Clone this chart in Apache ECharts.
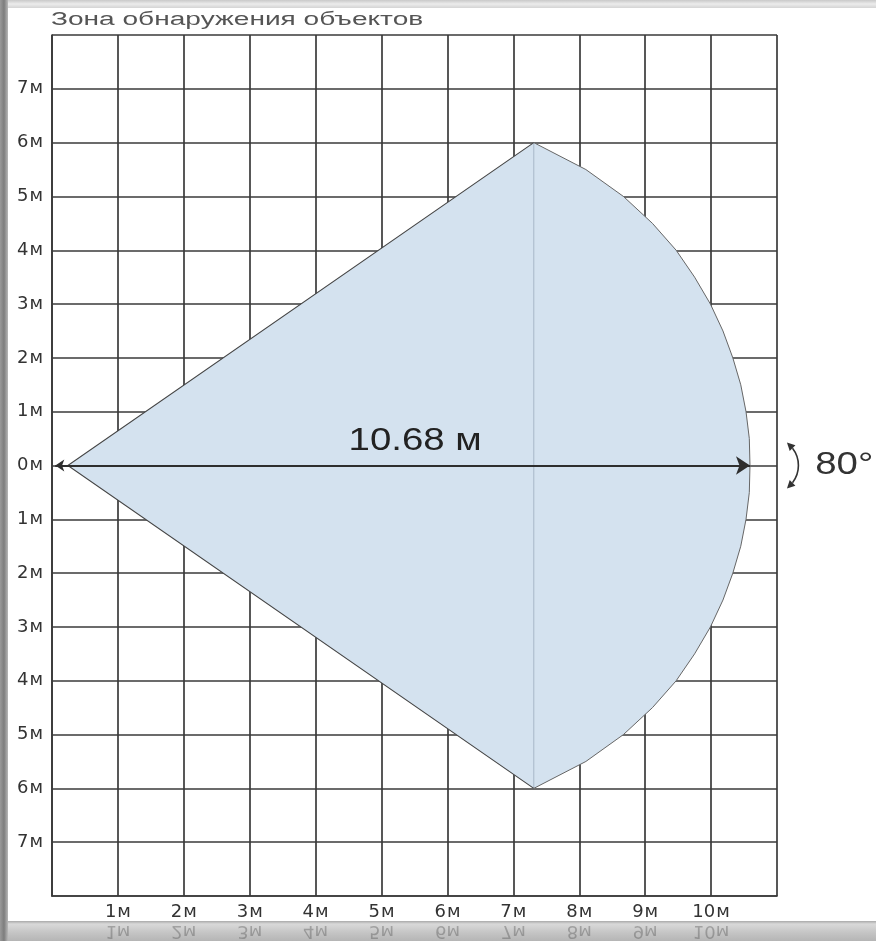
<!DOCTYPE html>
<html>
<head>
<meta charset="utf-8">
<script src="https://cdn.jsdelivr.net/npm/echarts@6/dist/echarts.min.js"></script>
<style>html,body{margin:0;padding:0;background:#fff;}#c{width:876px;height:941px;}</style>
</head>
<body>
<div id="c"></div>
<script>
// ---- data (metres) ----
const titleText = 'Зона обнаружения объектов';
const xTickValues = [1, 2, 3, 4, 5, 6, 7, 8, 9, 10];
const xTickLabels = ['1м', '2м', '3м', '4м', '5м', '6м', '7м', '8м', '9м', '10м'];
const yTickValues = [7, 6, 5, 4, 3, 2, 1, 0, -1, -2, -3, -4, -5, -6, -7];
const yTickLabels = ['7м', '6м', '5м', '4м', '3м', '2м', '1м', '0м', '1м', '2м', '3м', '4м', '5м', '6м', '7м'];
const coneVertex = [0.24, 0];
const arcPoints = [
  [7.31, 6.0], [8.10, 5.5], [8.67, 5.0], [9.11, 4.5], [9.47, 4.0], [9.75, 3.5],
  [9.99, 3.0], [10.18, 2.5], [10.33, 2.0], [10.45, 1.5], [10.53, 1.0], [10.58, 0.5],
  [10.59, 0.0],
  [10.58, -0.5], [10.53, -1.0], [10.45, -1.5], [10.33, -2.0], [10.18, -2.5], [9.99, -3.0],
  [9.75, -3.5], [9.47, -4.0], [9.11, -4.5], [8.67, -5.0], [8.10, -5.5], [7.31, -6.0]
];
const rangeArrow = [[0.05, 0], [10.59, 0]];
const rangeLabel = { text: '10.68 м', at: [5.51, 0.45] };
const angleLabel = { text: '80°', at: [12.02, 0] };
const angleArcCenter = [10.9, 0];

const chart = echarts.init(document.getElementById('c'), null, { renderer: 'canvas' });
const gridColor = '#3a3a3a';
const labelFont = 'Liberation Sans, Arial, sans-serif';
const tickFont = 'DejaVu Sans, sans-serif';

const tickRich = {
  n: { fontSize: 18, fontFamily: tickFont, color: '#333', padding: [0, 1, 0, 0] },
  u: { fontSize: 18, fontFamily: tickFont, color: '#333' }
};
const richLabel = s => '{n|' + s.replace('м', '') + '}{u|м}';

const textSeries = (lbl, size, color, sx) => ({
  type: 'custom', clip: false, z: 6,
  data: [lbl.at],
  renderItem: (params, api) => {
    const p = api.coord([api.value(0), api.value(1)]);
    return { type: 'text', x: p[0], y: p[1], scaleX: sx,
      style: { text: lbl.text, fontSize: size, fontFamily: labelFont, fill: color, align: 'center', verticalAlign: 'middle' } };
  }
});

const option = {
  backgroundColor: '#ffffff',
  animation: false,
  grid: { left: 52, top: 35, width: 725, height: 861, containLabel: false },
  xAxis: {
    type: 'value', min: 0, max: 11, interval: 1,
    axisLine: { show: true, onZero: false, lineStyle: { color: gridColor, width: 1.7 } },
    axisTick: { show: false },
    splitLine: { show: true, lineStyle: { color: gridColor, width: 1.7 } },
    axisLabel: {
      margin: 7, rich: tickRich,
      formatter: v => { const i = xTickValues.indexOf(v); return i >= 0 ? richLabel(xTickLabels[i]) : ''; }
    }
  },
  yAxis: {
    type: 'value', min: -8, max: 8, interval: 1,
    axisLine: { show: true, onZero: false, lineStyle: { color: gridColor, width: 1.7 } },
    axisTick: { show: false },
    splitLine: { show: true, lineStyle: { color: gridColor, width: 1.7 } },
    axisLabel: {
      margin: 9, rich: tickRich,
      formatter: v => { const i = yTickValues.indexOf(v); return i >= 0 ? richLabel(yTickLabels[i]) : ''; }
    }
  },
  series: [
    {
      type: 'custom', name: 'zone', clip: false, z: 3,
      data: [[0]],
      renderItem: (params, api) => {
        const v = api.coord(coneVertex);
        const arc = arcPoints.map(p => api.coord(p));
        const top = arc[0], bot = arc[arc.length - 1];
        return {
          type: 'group',
          children: [
            { type: 'polygon', shape: { points: [v].concat(arc) }, style: { fill: '#d4e2ef', stroke: null } },
            { type: 'line', shape: { x1: top[0], y1: top[1], x2: bot[0], y2: bot[1] }, style: { stroke: '#a7b7c7', lineWidth: 1 } },
            { type: 'polyline', shape: { points: arc }, style: { stroke: '#666', lineWidth: 1, fill: null } },
            { type: 'polyline', shape: { points: [top, v, bot] }, style: { stroke: '#444', lineWidth: 1.1, fill: null } }
          ]
        };
      }
    },
    {
      type: 'lines', coordinateSystem: 'cartesian2d', z: 4,
      symbol: ['arrow', 'arrow'], symbolSize: [9, 14],
      lineStyle: { color: '#2e2e2e', width: 2, opacity: 1 },
      data: [{ coords: rangeArrow }]
    },
    textSeries(rangeLabel, 32, '#222', 1.2),
    textSeries(angleLabel, 32, '#333', 1.2),
    {
      type: 'custom', name: 'angleArc', clip: false, z: 5,
      data: [angleArcCenter],
      renderItem: (params, api) => {
        const c = api.coord([api.value(0), api.value(1)]);
        const r = 28, a = 0.78;
        const p1 = [c[0] + r * Math.cos(-a), c[1] + r * Math.sin(-a)];
        const p2 = [c[0] + r * Math.cos(a), c[1] + r * Math.sin(a)];
        const t1 = [Math.sin(-a), -Math.cos(-a)];
        const t2 = [-Math.sin(a), Math.cos(a)];
        const head = (p, t) => {
          const L = 8, W = 4;
          const n = [-t[1], t[0]];
          const tip = [p[0] + t[0] * L * 0.6, p[1] + t[1] * L * 0.6];
          const b = [p[0] - t[0] * L * 0.4, p[1] - t[1] * L * 0.4];
          return { type: 'polygon', shape: { points: [tip, [b[0] + n[0] * W, b[1] + n[1] * W], [b[0] - n[0] * W, b[1] - n[1] * W]] }, style: { fill: '#333' } };
        };
        return {
          type: 'group',
          children: [
            { type: 'arc', shape: { cx: c[0], cy: c[1], r: r, startAngle: -a + 0.12, endAngle: a - 0.12 }, style: { stroke: '#333', lineWidth: 1.6, fill: null } },
            head(p1, t1), head(p2, t2)
          ]
        };
      }
    }
  ],
  graphic: []
};
chart.setOption(option);

// decorative frame + title + mirrored tick reflections
const g = [
  { type: 'rect', left: 0, top: 0, shape: { width: 876, height: 8 }, z: 10,
    style: { fill: new echarts.graphic.LinearGradient(0, 0, 0, 1, [{ offset: 0, color: '#c9c9c9' }, { offset: 0.5, color: '#ececec' }, { offset: 1, color: '#d4d4d4' }]) } },
  { type: 'rect', left: 0, top: 921, shape: { width: 876, height: 20 }, z: 10,
    style: { fill: new echarts.graphic.LinearGradient(0, 0, 0, 1, [{ offset: 0, color: '#a9a9a9' }, { offset: 0.15, color: '#d9d9d9' }, { offset: 0.6, color: '#c4c4c4' }, { offset: 1, color: '#b5b5b5' }]) } },
  { type: 'rect', left: 0, top: 0, shape: { width: 8, height: 941 }, z: 11,
    style: { fill: new echarts.graphic.LinearGradient(0, 0, 1, 0, [{ offset: 0, color: '#9a9a9a' }, { offset: 0.5, color: '#7d7d7d' }, { offset: 1, color: '#b8b8b8' }]) } },
  { type: 'text', x: 51, y: 20, scaleX: 1.56, z: 12,
    style: { text: titleText, fill: '#555', fontSize: 18, fontFamily: labelFont, verticalAlign: 'middle', align: 'left' } }
];
xTickValues.forEach((v, i) => {
  const px = chart.convertToPixel({ gridIndex: 0 }, [v, -8]);
  g.push({ type: 'text', x: px[0], y: 931, scaleY: -1, z: 12,
    style: { text: xTickLabels[i], fill: 'rgba(70,70,70,0.35)', fontSize: 18, fontFamily: tickFont, align: 'center', verticalAlign: 'middle' } });
});
chart.setOption({ graphic: g });
</script>
</body>
</html>
